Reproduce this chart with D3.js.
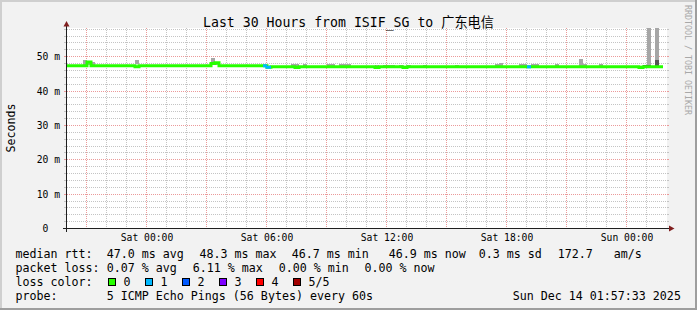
<!DOCTYPE html>
<html><head><meta charset="utf-8">
<script src="https://cdn.jsdelivr.net/npm/d3@7"></script>
<style>
html,body{margin:0;padding:0;background:#f2f2f2;}
svg{display:block;}
text{font-family:"DejaVu Sans Mono","Noto Sans CJK SC",monospace;fill:#000;white-space:pre;}
</style></head><body>
<svg id="c" width="697" height="310"></svg>
<script>
// ---------------- data ----------------
const title = "Last 30 Hours from ISIF_SG to 广东电信";
const startTime = "2025-12-12 20:00";
const endTime = "2025-12-14 02:00";
const stepMinutes = 12;
const yMax = 58.2;
const yTickValues = [0, 10, 20, 30, 40, 50];

// median rtt (ms), one value per 12-minute step
const medianRtt = [
 47.2,47.2,47.2,47.2,47.2,48.3,47.2,47.2,47.2,47.2,
 47.2,47.2,47.2,47.2,47.2,47.2,47.2,46.9,47.2,47.2,
 47.2,47.2,47.2,47.2,47.2,47.2,47.2,47.2,47.2,47.2,
 47.2,47.2,47.2,47.2,47.2,47.2,47.9,48.1,47.2,47.2,
 47.2,47.2,47.2,47.2,47.2,47.2,47.2,47.2,47.2,47.2,
 46.8,46.9,46.9,46.9,46.9,46.9,46.9,46.7,46.9,46.9,
 46.9,46.9,46.9,46.9,46.9,46.9,46.9,46.9,46.9,46.9,
 46.9,46.9,46.9,46.9,46.9,46.9,46.9,46.7,46.9,46.9,
 46.9,46.9,46.9,46.9,46.7,46.9,46.9,46.9,46.9,46.9,
 46.9,46.9,46.9,46.9,46.9,46.9,46.9,46.9,46.9,46.9,
 46.9,46.9,46.9,46.9,46.9,46.9,46.9,46.9,46.9,46.9,
 46.9,46.9,46.9,46.9,46.9,46.9,46.9,46.9,46.9,46.9,
 46.9,46.9,46.9,46.9,46.9,46.9,46.9,46.9,46.9,46.9,
 46.9,46.9,46.9,46.9,46.9,46.9,46.9,46.9,46.9,46.9,
 46.9,46.9,46.9,46.7,46.9,46.9,46.9,46.9,46.9
];

// steps with packet loss and their loss-colour level
const lossSteps  = [49, 50, 115];
const lossLevels = [1, 1, 1];

// smoke (ping spread) per step
const smokeSteps = [4,5,6,17,36,37, 56,57,59,65,66,68,69,70, 77,79,80,81,83,85,89,97, 107,108,113,114,116,117,122, 128,129,133, 144,145,147];
const smokeLow   = [47.2,47.5,47.2,47.7,47.3,47.4, 46.9,46.8,46.9,46.9,46.9,46.9,46.9,46.9, 46.8,46.9,46.9,46.9,46.9,46.9,46.9,46.9, 46.9,46.9,46.9,46.9,46.9,46.9,46.9, 46.9,46.9,46.9, 46.9,46.9,46.9];
const smokeHigh  = [48.9,48.6,48.3,48.9,49.5,48.4, 47.6,47.6,47.6,47.6,47.6,47.8,47.6,47.6, 47.5,47.5,47.5,47.5,47.5,47.5,47.5,47.5, 47.6,47.9,47.6,47.6,47.6,47.6,47.6, 49.3,47.6,47.6, 47.3,62.0,62.0];
const darkSteps  = [144, 145, 147];
const darkLow    = [46.9, 46.9, 46.9];
const darkHigh   = [47.3, 47.3, 48.9];

const lossColors = ["#26ff00","#00b8ff","#0059ff","#7e00ff","#ff0000","#a10000"];
const lossLabels = ["0","1","2","3","4","5/5"];

const legendRtt  = ["median rtt:", "47.0 ms avg", "48.3 ms max", "46.7 ms min", "46.9 ms now", "0.3 ms sd", "172.7   am/s"];
const legendLoss = ["packet loss:", "0.07 % avg", "6.11 % max", "0.00 % min", "0.00 % now"];
const legendColorTitle = "loss color:";
const legendProbe = ["probe:", "5 ICMP Echo Pings (56 Bytes) every 60s"];
const dateStamp = "Sun Dec 14 01:57:33 2025";
const yAxisTitle = "Seconds";
const watermark = "RRDTOOL / TOBI OETIKER";

// ---------------- drawing ----------------
const W = 697, H = 310;
const L = 67, R = 667, T = 28, B = 228;
const parse = d3.timeParse("%Y-%m-%d %H:%M");
const t0 = parse(startTime), t1 = parse(endTime);
const stepTime = i => d3.timeMinute.offset(t0, i * stepMinutes);
const x = d3.scaleTime().domain([t0, t1]).range([L, R]);
const y = d3.scaleLinear().domain([0, yMax]).range([B, T]);

const svg = d3.select("#c");
svg.append("rect").attr("width", W).attr("height", H).attr("fill", "#f2f2f2");
// bevel border
svg.append("rect").attr("x",0).attr("y",0).attr("width",W).attr("height",2).attr("fill","#cfcfcf");
svg.append("rect").attr("x",0).attr("y",0).attr("width",2).attr("height",H).attr("fill","#cfcfcf");
svg.append("rect").attr("x",W-2).attr("y",0).attr("width",2).attr("height",H).attr("fill","#9e9e9e");
svg.append("rect").attr("x",0).attr("y",H-2).attr("width",W).attr("height",2).attr("fill","#9e9e9e");

// canvas
svg.append("rect").attr("x", L).attr("y", T).attr("width", R - L).attr("height", B - T).attr("fill", "#fff");

const minorCol = "#c4c4c4", majorCol = "#eb9a9a";
const grid = svg.append("g").attr("shape-rendering", "crispEdges");
// horizontal grid
d3.range(2, yMax, 2).forEach(v => {
  const yy = Math.round(y(v)) + 0.5;
  const col = v % 10 === 0 ? majorCol : minorCol;
  grid.append("line").attr("x1", L).attr("x2", R).attr("y1", yy).attr("y2", yy)
    .attr("stroke", col).attr("stroke-dasharray", "1,1");
  grid.append("line").attr("x1", L - 3).attr("x2", L).attr("y1", yy).attr("y2", yy).attr("stroke", col);
  grid.append("line").attr("x1", R).attr("x2", R + 2).attr("y1", yy).attr("y2", yy).attr("stroke", col);
});
// vertical grid
const hours = d3.timeHour.range(d3.timeHour.offset(t0, 1), t1);
hours.forEach(h => {
  const xx = Math.round(x(h)) - 0.5;
  const col = h.getHours() % 3 === 0 ? majorCol : minorCol;
  grid.append("line").attr("x1", xx).attr("x2", xx).attr("y1", T).attr("y2", B)
    .attr("stroke", col).attr("stroke-dasharray", "1,1");
});

// data layer
svg.append("clipPath").attr("id", "plot").append("rect")
  .attr("x", L).attr("y", T).attr("width", R - L).attr("height", B - T);
const data = svg.append("g").attr("clip-path", "url(#plot)").attr("shape-rendering", "crispEdges");

const stepW = x(stepTime(1)) - x(stepTime(0));
smokeSteps.forEach((s, k) => {
  const xs = x(stepTime(s));
  data.append("rect").attr("x", xs).attr("width", stepW)
    .attr("y", y(smokeHigh[k])).attr("height", y(smokeLow[k]) - y(smokeHigh[k]))
    .attr("fill", "#a6a6a6");
});
darkSteps.forEach((s, k) => {
  const xs = x(stepTime(s));
  data.append("rect").attr("x", xs).attr("width", stepW)
    .attr("y", y(darkHigh[k])).attr("height", y(darkLow[k]) - y(darkHigh[k]))
    .attr("fill", "#555555");
});

// median line (green), stepped
const pts = medianRtt.map((v, i) => [stepTime(i), v]);
pts.push([stepTime(medianRtt.length), medianRtt[medianRtt.length - 1]]);
const line = d3.line().x(d => x(d[0])).y(d => y(d[1])).curve(d3.curveStepAfter);
data.append("path").attr("d", line(pts)).attr("fill", "none")
  .attr("stroke", lossColors[0]).attr("stroke-width", 3).attr("shape-rendering", "auto");
// loss-coloured segments
lossSteps.forEach((s, k) => {
  const prev = s > 0 ? medianRtt[s - 1] : medianRtt[s];
  const cur = medianRtt[s];
  const xa = x(stepTime(s)), xb = x(stepTime(s + 1));
  data.append("path")
    .attr("d", `M${xa},${y(prev)}V${y(cur)}H${xb}`)
    .attr("fill", "none").attr("stroke", lossColors[lossLevels[k]]).attr("stroke-width", 3)
    .attr("shape-rendering", "auto");
});

// axes
const axisCol = "#1f1f1f", arrowCol = "#801f1f";
svg.append("line").attr("x1", L - 4).attr("x2", R + 4).attr("y1", B + 0.5).attr("y2", B + 0.5)
  .attr("stroke", axisCol).attr("shape-rendering", "crispEdges");
svg.append("line").attr("x1", L - 0.5).attr("x2", L - 0.5).attr("y1", B + 4).attr("y2", T - 4)
  .attr("stroke", axisCol).attr("shape-rendering", "crispEdges");
svg.append("polygon").attr("points", `${R+2},${B-2.5} ${R+2},${B+3.5} ${R+7.5},${B+0.5}`).attr("fill", arrowCol);
svg.append("polygon").attr("points", `${L-3.5},${T-1.5} ${L+2.5},${T-1.5} ${L-0.5},${T-7}`).attr("fill", arrowCol);

// y tick labels
yTickValues.forEach(v => {
  svg.append("text").attr("x", 60).attr("y", Math.round(y(v)) + 3.8)
    .attr("text-anchor", "end").attr("font-size", "9.7px")
    .text(v === 0 ? "0  " : v + " m");
});
// x tick labels
const fmt = d3.timeFormat("%a %H:%M");
hours.filter(h => h.getHours() % 6 === 0).forEach(h => {
  svg.append("text").attr("x", x(h)).attr("y", 240.8)
    .attr("text-anchor", "middle").attr("font-size", "9.7px").text(fmt(h));
});

// title
svg.append("text").attr("x", 348.5).attr("y", 27.3).attr("text-anchor", "middle")
  .attr("font-size", "13.2px").text(title);
// y axis title
svg.append("text").attr("transform", "translate(15,128) rotate(-90)")
  .attr("text-anchor", "middle").attr("font-size", "11.6px").text(yAxisTitle);
// watermark
svg.append("text").attr("transform", "translate(684.5,5) rotate(90)")
  .attr("font-size", "8.3px").style("fill", "#a8a8a8").text(watermark);

// legend
const fs = "11.65px";
const rttX = [15.4, 106.7, 199.4, 291.7, 388.7, 478.7, 557.7];
legendRtt.forEach((s, i) => svg.append("text").attr("x", rttX[i]).attr("y", 258.4).attr("font-size", fs).text(s));
const lossX = [15.4, 106.7, 192.7, 278.7, 364.4];
legendLoss.forEach((s, i) => svg.append("text").attr("x", lossX[i]).attr("y", 272.4).attr("font-size", fs).text(s));
svg.append("text").attr("x", 15.4).attr("y", 286.4).attr("font-size", fs).text(legendColorTitle);
lossLabels.forEach((lab, i) => {
  svg.append("rect").attr("x", 108.5 + 37 * i).attr("y", 278.5).attr("width", 7).attr("height", 7)
    .attr("fill", lossColors[i]).attr("stroke", "#000").attr("stroke-width", 1);
  svg.append("text").attr("x", 123.4 + 37 * i).attr("y", 286.4).attr("font-size", fs).text(lab);
});
const probeX = [15.4, 106.7];
legendProbe.forEach((s, i) => svg.append("text").attr("x", probeX[i]).attr("y", 300.4).attr("font-size", fs).text(s));
svg.append("text").attr("x", 512.7).attr("y", 300.4).attr("font-size", fs).text(dateStamp);
</script>
</body></html>
